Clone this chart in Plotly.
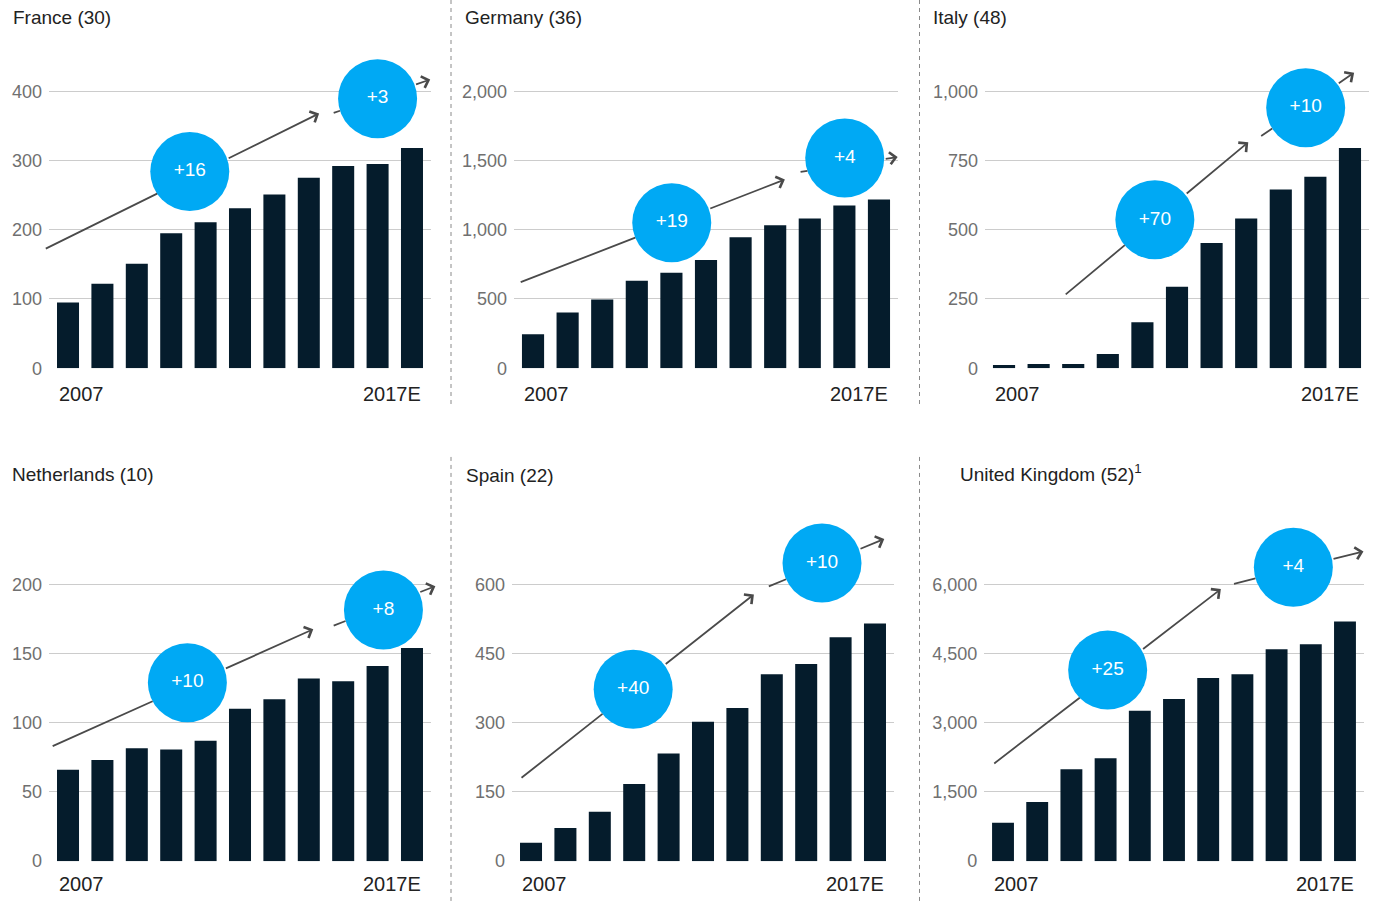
import math
import plotly.graph_objects as go

# ---- data -------------------------------------------------------------
years = ["2007", "2008", "2009", "2010", "2011", "2012",
         "2013", "2014", "2015", "2016", "2017E"]

france = [95, 122, 151, 195, 211, 231, 251, 275, 292, 295, 318]
germany = [245, 403, 496, 632, 689, 782, 946, 1032, 1082, 1175, 1218]
italy = [12, 15, 15, 51, 166, 294, 452, 541, 645, 691, 795]
netherlands = [66, 73, 81.5, 80.7, 87, 110, 117, 132, 130, 141, 154]
spain = [40, 72, 107, 167, 233, 302, 332, 405, 427, 485, 515]
uk = [830, 1282, 1990, 2227, 3258, 3515, 3967, 4052, 4589, 4697, 5191]

titles = ["France (30)", "Germany (36)", "Italy (48)",
          "Netherlands (10)", "Spain (22)", "United Kingdom (52)<sup>1</sup>"]
growth_early = ["+16", "+19", "+70", "+10", "+40", "+25"]
growth_late = ["+3", "+4", "+10", "+8", "+10", "+4"]
tick_values = [
    [0, 100, 200, 300, 400],
    [0, 500, 1000, 1500, 2000],
    [0, 250, 500, 750, 1000],
    [0, 50, 100, 150, 200],
    [0, 150, 300, 450, 600],
    [0, 1500, 3000, 4500, 6000],
]
series = [france, germany, italy, netherlands, spain, uk]

# ---- layout geometry (pixels) -------------------------------------------
W, H = 1379, 913
GRID_PX = 280                      # distance from zero line to top gridline
ROWS = [dict(zero=372.3, top=50, label_y=398),
        dict(zero=870.7, top=520, label_y=894)]
X_RANGE = [-0.55, 10.55]
BAR_HALF = 0.32
BUBBLE_D = 79

# (left px, right px, row, title x px, title y px)
boxes = [
    (49.1, 430.9, 0, 11, 18),
    (514.0, 898.0, 0, 463, 18),
    (985.0, 1369.0, 0, 931, 18),
    (49.1, 430.9, 1, 10, 480),
    (512.1, 893.9, 1, 464, 481),
    (984.2, 1363.8, 1, 958, 478),
]

# growth arrows: (tail x, tail y, head x, head y) in each panel's data units
arrows = [
    [(-0.69, 171.6, 7.30, 368), (7.68, 368, 10.53, 417)],
    [(-0.40, 617, 7.28, 1363), (7.69, 1416, 10.54, 1525)],
    [(1.74, 262, 7.06, 816), (7.39, 835, 10.12, 1067)],
    [(-0.49, 82.6, 7.13, 167.5), (7.68, 169.7, 10.68, 198.6)],
    [(-0.32, 178, 6.48, 578), (6.87, 594, 10.27, 698)],
    [(-0.30, 2092, 6.37, 5894), (6.71, 6001, 10.54, 6710)],
]
# growth bubbles: centre positions in data units
bubbles = [
    [(3.54, 284), (9.00, 389.4)],
    [(4.01, 1051), (9.01, 1518)],
    [(4.36, 536), (8.72, 941)],
    [(3.47, 128.9), (9.17, 181.4)],
    [(2.97, 372.4), (8.46, 646)],
    [(3.06, 4139), (8.49, 6366)],
]

NAVY = "#051C2C"
CYAN = "#00A9F4"
ARROW = "#4a4a4a"
FONT = "Liberation Sans"


def visible_pieces(tail, head, centres, sx, sy, radius):
    """Split a segment into the parts that lie outside every bubble."""
    (x0, y0), (x1, y1) = tail, head
    dx, dy = (x1 - x0) * sx, (y1 - y0) * sy
    cuts = []
    for cx, cy in centres:
        fx, fy = (x0 - cx) * sx, (y0 - cy) * sy
        a = dx * dx + dy * dy
        b = 2 * (fx * dx + fy * dy)
        c = fx * fx + fy * fy - radius * radius
        disc = b * b - 4 * a * c
        if disc <= 0:
            continue
        r = math.sqrt(disc)
        t1, t2 = (-b - r) / (2 * a), (-b + r) / (2 * a)
        if t2 > 0 and t1 < 1:
            cuts.append((max(t1, 0.0), min(t2, 1.0)))
    cuts.sort()
    pieces, start = [], 0.0
    for t1, t2 in cuts:
        if t1 > start:
            pieces.append((start, t1))
        start = max(start, t2)
    if start < 1:
        pieces.append((start, 1.0))
    pt = lambda t: (x0 + (x1 - x0) * t, y0 + (y1 - y0) * t)
    return [(pt(a), pt(b), b >= 1.0) for a, b in pieces]


fig = go.Figure()
annotations = []
shapes = []
layout_axes = {}

for i, vals in enumerate(series):
    k = i + 1
    xa = "x" if k == 1 else f"x{k}"
    ya = "y" if k == 1 else f"y{k}"
    left, right, row, tx, ty = boxes[i]
    r = ROWS[row]
    grid_max = tick_values[i][-1]
    y_top = grid_max * (r["zero"] - r["top"]) / GRID_PX
    sx = (right - left) / (X_RANGE[1] - X_RANGE[0])
    sy = GRID_PX / grid_max

    fig.add_trace(go.Bar(
        x=list(range(len(vals))), y=vals, xaxis=xa, yaxis=ya,
        marker=dict(color=NAVY, line=dict(width=0)),
        width=2 * BAR_HALF, hoverinfo="skip", showlegend=False,
    ))

    bx = [b[0] for b in bubbles[i]]
    by = [b[1] for b in bubbles[i]]
    fig.add_trace(go.Scatter(
        x=bx, y=by, xaxis=xa, yaxis=ya, mode="markers+text",
        text=[growth_early[i], growth_late[i]],
        textposition="middle center",
        textfont=dict(color="white", size=19, family=FONT),
        marker=dict(size=BUBBLE_D, color=CYAN, line=dict(width=0)),
        cliponaxis=False, hoverinfo="skip", showlegend=False,
    ))

    layout_axes["xaxis" if k == 1 else f"xaxis{k}"] = dict(
        domain=[left / W, right / W], range=X_RANGE, anchor=ya,
        showgrid=False, zeroline=False, showticklabels=False,
        showline=False, fixedrange=True,
    )
    layout_axes["yaxis" if k == 1 else f"yaxis{k}"] = dict(
        domain=[1 - r["zero"] / H, 1 - r["top"] / H], range=[0, y_top],
        anchor=xa, tickvals=tick_values[i], tickformat=",d",
        showgrid=True, gridcolor="#cccccc", gridwidth=1.2,
        zeroline=False, showline=False, ticks="",
        ticklabelstandoff=6,
        tickfont=dict(size=18, color="#707070", family=FONT),
        fixedrange=True,
    )

    # arrows run behind the bubbles: only the parts outside them are drawn
    for (x0, y0, x1, y1) in arrows[i]:
        for (p0, p1, has_head) in visible_pieces(
                (x0, y0), (x1, y1), bubbles[i], sx, sy, BUBBLE_D / 2):
            annotations.append(dict(
                x=p1[0], y=p1[1], ax=p0[0], ay=p0[1],
                xref=xa, yref=ya, axref=xa, ayref=ya,
                text="", showarrow=True,
                arrowhead=4 if has_head else 0, arrowsize=1.3,
                arrowwidth=1.8, arrowcolor=ARROW,
                standoff=0, startstandoff=0,
            ))

    # panel title
    annotations.append(dict(
        x=tx / W, y=1 - ty / H, xref="paper", yref="paper",
        xanchor="left", yanchor="middle", showarrow=False,
        text=titles[i], font=dict(size=19, color="#222222", family=FONT),
    ))
    # first / last year labels
    annotations.append(dict(
        x=-BAR_HALF, y=1 - r["label_y"] / H, xref=xa, yref="paper",
        xanchor="left", yanchor="middle", showarrow=False,
        text=years[0], font=dict(size=20, color="#222222", family=FONT),
    ))
    annotations.append(dict(
        x=len(vals) - 1 + BAR_HALF, y=1 - r["label_y"] / H, xref=xa,
        yref="paper", xanchor="right", yanchor="middle", showarrow=False,
        text=years[-1], font=dict(size=20, color="#222222", family=FONT),
    ))

# dashed separators between columns
for sxp in (451, 919.5):
    for (y0, y1) in ((0, 410), (462, H)):
        shapes.append(dict(
            type="line", xref="paper", yref="paper",
            x0=sxp / W, x1=sxp / W, y0=1 - y0 / H, y1=1 - y1 / H,
            line=dict(color="#8a8a8a", width=1, dash="4px,4px"),
        ))

fig.update_layout(
    width=W, height=H, margin=dict(l=0, r=0, t=0, b=0),
    paper_bgcolor="white", plot_bgcolor="white",
    font=dict(family=FONT), bargap=0.36,
    annotations=annotations, shapes=shapes, **layout_axes,
)

fig.write_html("out.html")
